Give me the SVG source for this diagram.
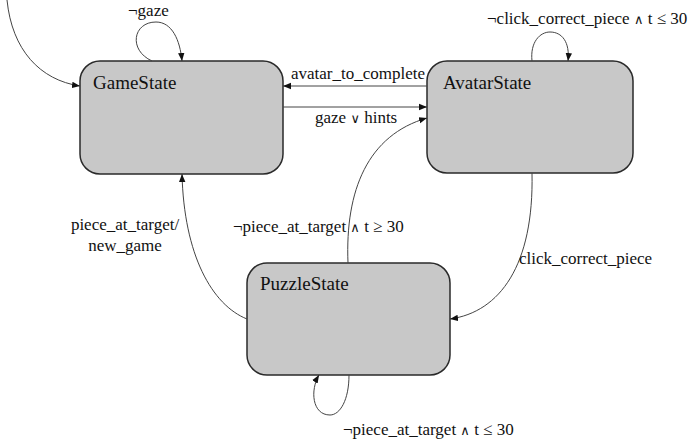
<svg xmlns="http://www.w3.org/2000/svg" width="695" height="445" viewBox="0 0 695 445">
  <defs>
    <marker id="arrow" viewBox="0 0 10 10" refX="10" refY="5" markerWidth="8" markerHeight="8" markerUnits="userSpaceOnUse" orient="auto">
      <path d="M0,1 L10,5 L0,9 z" fill="#111"/>
    </marker>
  </defs>

  <rect width="695" height="445" fill="#ffffff"/>

  <g id="GameState">
    <rect x="80" y="61" width="203" height="113" rx="20" ry="20" fill="#c8c8c8" stroke="#2a2a2a" stroke-width="1.5"/>
    <text x="93" y="89" font-family="Liberation Serif" font-size="19" fill="#111">GameState</text>
  </g>

  <g id="AvatarState">
    <rect x="427" y="61" width="206" height="112" rx="20" ry="20" fill="#c8c8c8" stroke="#2a2a2a" stroke-width="1.5"/>
    <text x="443" y="89" font-family="Liberation Serif" font-size="19" fill="#111">AvatarState</text>
  </g>

  <g id="PuzzleState">
    <rect x="247" y="263" width="203" height="112" rx="20" ry="20" fill="#c8c8c8" stroke="#2a2a2a" stroke-width="1.5"/>
    <text x="260" y="290" font-family="Liberation Serif" font-size="19" fill="#111">PuzzleState</text>
  </g>

  <g id="connectors" fill="none" stroke="#444" stroke-width="1">
    <!-- initial transition -->
    <path d="M7,0 C12,50 40,80 80,86" marker-end="url(#arrow)"/>
    <!-- GameState self loop -->
    <path d="M152,61 C128,50 133,22 156,22 C172,22 180,40 182,61" marker-end="url(#arrow)"/>
    <!-- AvatarState to GameState -->
    <path d="M427,86 L283,86" marker-end="url(#arrow)"/>
    <!-- GameState to AvatarState -->
    <path d="M283,107 L427,107" marker-end="url(#arrow)"/>
    <!-- PuzzleState to AvatarState -->
    <path d="M348,263 C345,190 368,135 427,118" marker-end="url(#arrow)"/>
    <!-- PuzzleState to GameState -->
    <path d="M247,319 C212,305 184,255 182,174" marker-end="url(#arrow)"/>
    <!-- AvatarState to PuzzleState -->
    <path d="M532,173 C534,265 500,312 450,319" marker-end="url(#arrow)"/>
    <!-- AvatarState self loop -->
    <path d="M532,61 C530,42 540,32 550,32 C562,32 570,42 568,61" marker-end="url(#arrow)"/>
    <!-- PuzzleState self loop -->
    <path d="M349,375 C349,400 340,415 330,415 C312,415 310,390 319,375" marker-end="url(#arrow)"/>
  </g>

  <g id="labels" fill="#111" font-size="17">
    <text x="128" y="16" font-family="Liberation Serif">&#172;gaze</text>
    <text x="291" y="79" font-family="Liberation Serif">avatar_to_complete</text>
    <text x="315" y="123" font-family="Liberation Serif">gaze <tspan font-family="DejaVu Sans" font-size="13">&#8744;</tspan> hints</text>
    <text x="487" y="24" font-family="Liberation Serif">&#172;click_correct_piece <tspan font-family="DejaVu Sans" font-size="13">&#8743;</tspan> t &#8804; 30</text>
    <text x="233" y="232" font-family="Liberation Serif">&#172;piece_at_target <tspan font-family="DejaVu Sans" font-size="13">&#8743;</tspan> t &#8805; 30</text>
    <text x="125" y="230" font-family="Liberation Serif" text-anchor="middle">piece_at_target/</text>
    <text x="125" y="251" font-family="Liberation Serif" text-anchor="middle">new_game</text>
    <text x="519" y="264" font-family="Liberation Serif">click_correct_piece</text>
    <text x="343" y="435" font-family="Liberation Serif">&#172;piece_at_target <tspan font-family="DejaVu Sans" font-size="13">&#8743;</tspan> t &#8804; 30</text>
  </g>
</svg>
